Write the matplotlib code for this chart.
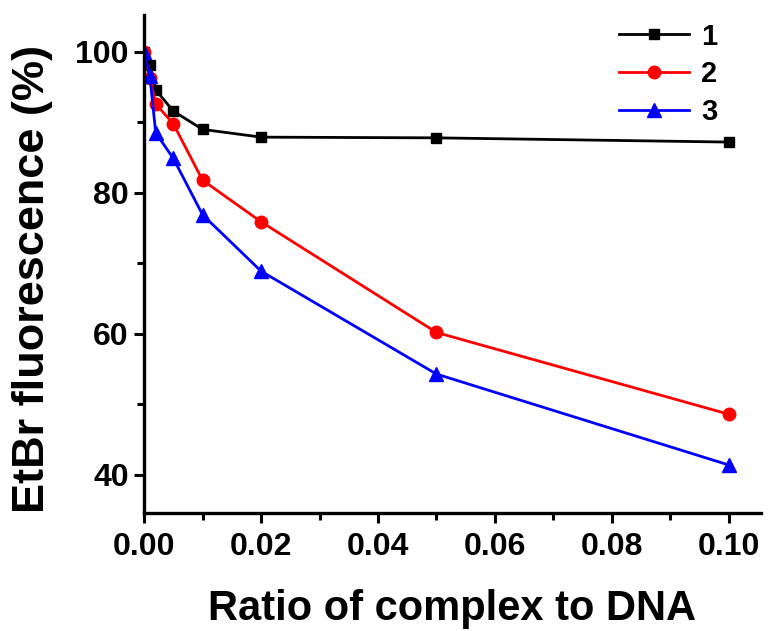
import numpy as np
import matplotlib
matplotlib.use("Agg")
import matplotlib.pyplot as plt
from matplotlib.ticker import MultipleLocator, FormatStrFormatter

# ---------------------------------------------------------
# data: EtBr fluorescence quenching vs complex/DNA ratio
# ---------------------------------------------------------
ratio = [0.0, 0.001, 0.002, 0.005, 0.01, 0.02, 0.05, 0.1]
fluor_1 = [100.0, 98.1, 94.6, 91.6, 89.0, 87.9, 87.8, 87.2]
fluor_2 = [100.0, 96.3, 92.6, 89.8, 81.8, 75.9, 60.2, 48.6]
fluor_3 = [100.0, 96.5, 88.5, 84.9, 76.9, 68.9, 54.3, 41.4]
labels = ["1", "2", "3"]

plt.rcParams["font.family"] = ["Liberation Sans", "DejaVu Sans"]
plt.rcParams["font.weight"] = "bold"

fig = plt.figure(figsize=(7.69, 6.31), dpi=100)
ax = fig.add_axes([0.1873, 0.187, 0.8017, 0.789])

ax.plot(ratio, fluor_1, color="black", lw=2, marker="s", ms=7.5, label=labels[0])
ax.plot(ratio, fluor_2, color="red", lw=2, marker="o", ms=9, label=labels[1])
ax.plot(ratio, fluor_3, color="blue", lw=2, marker="^", ms=9.5, label=labels[2])

ax.set_xlim(0, 0.1054)
ax.set_ylim(34.6, 105.2)

ax.xaxis.set_major_locator(MultipleLocator(0.02))
ax.xaxis.set_minor_locator(MultipleLocator(0.01))
ax.xaxis.set_major_formatter(FormatStrFormatter("%.2f"))
ax.yaxis.set_major_locator(MultipleLocator(20))
ax.yaxis.set_minor_locator(MultipleLocator(10))

for side in ("top", "right"):
    ax.spines[side].set_visible(False)
for side in ("left", "bottom"):
    ax.spines[side].set_linewidth(2.4)

ax.tick_params(which="major", length=7, width=2.2, labelsize=23, pad=4)
ax.tick_params(which="minor", length=5, width=2.2)
ax.tick_params(axis="x", which="major", pad=7)

ax.set_xlabel("Ratio of complex to DNA", fontsize=30, fontweight="bold", labelpad=19)
ax.set_ylabel("EtBr fluorescence (%)", fontsize=32.5, fontweight="bold")
ax.yaxis.set_label_coords(-0.148, 0.47)

leg = ax.legend(loc="upper right", frameon=False, fontsize=21, handlelength=2.4,
                handletextpad=0.4, labelspacing=0.33, borderaxespad=0.2,
                bbox_to_anchor=(0.958, 1.02))

fig.savefig("out.png", dpi=100)
